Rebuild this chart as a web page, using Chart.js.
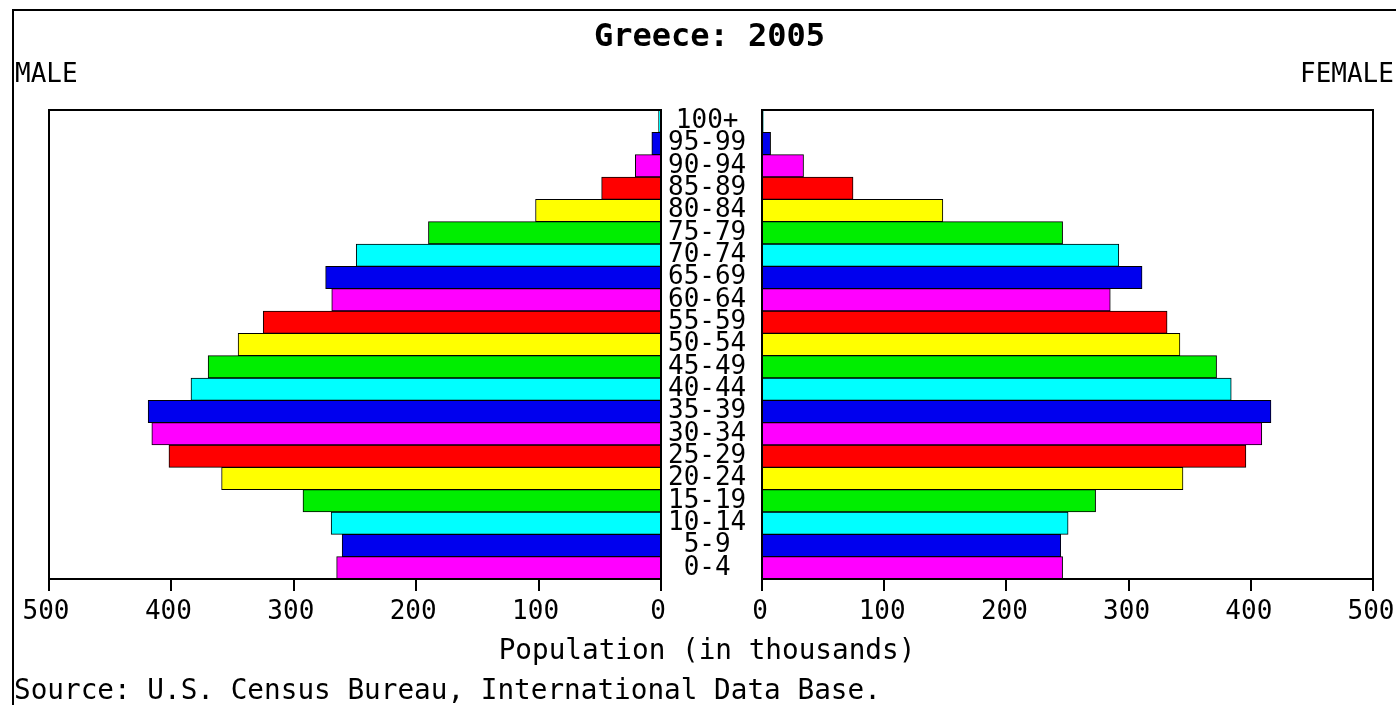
<!DOCTYPE html>
<html><head><meta charset="utf-8">
<script src="https://cdn.jsdelivr.net/npm/chart.js@4.4.1/dist/chart.umd.min.js"></script>
<style>
html,body{margin:0;padding:0;background:#fff;overflow:hidden;}
#wrap{position:relative;width:1396px;height:705px;overflow:hidden;background:#fff;font-family:'DejaVu Sans Mono',monospace;color:#000;}
.t{position:absolute;white-space:pre;}
#frame{position:absolute;left:12px;top:9px;width:2000px;height:2000px;border-left:2px solid #000;border-top:2px solid #000;}
canvas{position:absolute;top:0;}
</style></head><body>
<div id="wrap">
<div id="frame"></div>
<canvas id="male" width="762" height="705" style="left:0px;width:762px;height:705px"></canvas>
<canvas id="female" width="760" height="705" style="left:700px;width:760px;height:705px"></canvas>
<div class="t" style="left:0;width:1419px;text-align:center;top:19px;font-size:32px;line-height:32px;font-weight:bold;">Greece: 2005</div>
<div class="t" style="left:15px;top:60px;font-size:26px;line-height:26px;">MALE</div>
<div class="t" style="left:1300px;top:60px;font-size:26px;line-height:26px;">FEMALE</div>
<div class="t" style="left:0;width:1414px;text-align:center;top:636px;font-size:27.7px;line-height:27.7px;">Population (in thousands)</div>
<div class="t" style="left:14px;top:676px;font-size:27.7px;line-height:27.7px;">Source: U.S. Census Bureau, International Data Base.</div>
</div>
<script>
const ageGroups = ['0-4','5-9','10-14','15-19','20-24','25-29','30-34','35-39','40-44','45-49','50-54','55-59','60-64','65-69','70-74','75-79','80-84','85-89','90-94','95-99','100+'];
const maleValues = [265, 260.5, 269.5, 292.5, 359, 402, 416, 419, 384, 370, 345.5, 325, 269, 274, 249, 190, 102.5, 48.5, 21, 7.5, 2];
const femaleValues = [246, 244.5, 250.5, 273, 344.5, 396, 409, 416.5, 384, 372, 342, 331.5, 285, 311, 292, 246, 148, 74.5, 34, 7, 1];
const xTickValues = [0, 100, 200, 300, 400, 500];

const palette = ['#ff00ff', '#0000ee', '#00ffff', '#00ee00', '#ffff00', '#ff0000'];
const FONT = "'DejaVu Sans Mono', monospace";

const framePlugin = {
  id: 'plotFrame',
  afterDatasetsDraw(chart) {
    const {ctx, chartArea: a} = chart;
    ctx.save();
    ctx.strokeStyle = '#000';
    ctx.lineWidth = 2;
    ctx.strokeRect(a.left, a.top, a.right - a.left, a.bottom - a.top);
    ctx.restore();
  }
};

function makeChart(id, values, isMale) {
  const yScale = {
    type: 'category', reverse: true, position: 'right', display: isMale,
    grid: {display: false, drawTicks: false},
    border: {display: false},
    ticks: {color: '#000', font: {family: FONT, size: 26}, padding: 7, crossAlign: 'center', autoSkip: false}
  };
  if (isMale) yScale.afterFit = (s) => { s.width = 101; };
  return new Chart(document.getElementById(id), {
    type: 'bar',
    data: {
      labels: ageGroups,
      datasets: [{
        data: values,
        backgroundColor: ageGroups.map((_, i) => palette[i % palette.length]),
        borderColor: '#000',
        borderWidth: 1,
        barPercentage: 1,
        categoryPercentage: 1
      }]
    },
    options: {
      indexAxis: 'y',
      responsive: false,
      animation: false,
      devicePixelRatio: 1,
      layout: {
        padding: isMale ? {left: 49, top: 110, right: 0, bottom: 66}
                        : {left: 62, top: 110, right: 87, bottom: 66}
      },
      plugins: {legend: {display: false}, tooltip: {enabled: false}, title: {display: false}},
      scales: {
        x: {
          type: 'linear', min: 0, max: 500, reverse: isMale, position: 'bottom',
          afterFit(s) { s.height = 60; },
          afterBuildTicks(s) { s.ticks = xTickValues.map(v => ({value: v})); },
          grid: {display: true, drawOnChartArea: false, drawTicks: true, tickLength: 12, color: '#000', lineWidth: 2},
          border: {display: true, color: '#000', width: 2},
          ticks: {color: '#000', font: {family: FONT, size: 26}, padding: 6, maxRotation: 0, autoSkip: false, labelOffset: isMale ? -3 : -2}
        },
        y: yScale
      }
    },
    plugins: [framePlugin]
  });
}

makeChart('male', maleValues, true);
makeChart('female', femaleValues, false);
</script>
</body></html>
